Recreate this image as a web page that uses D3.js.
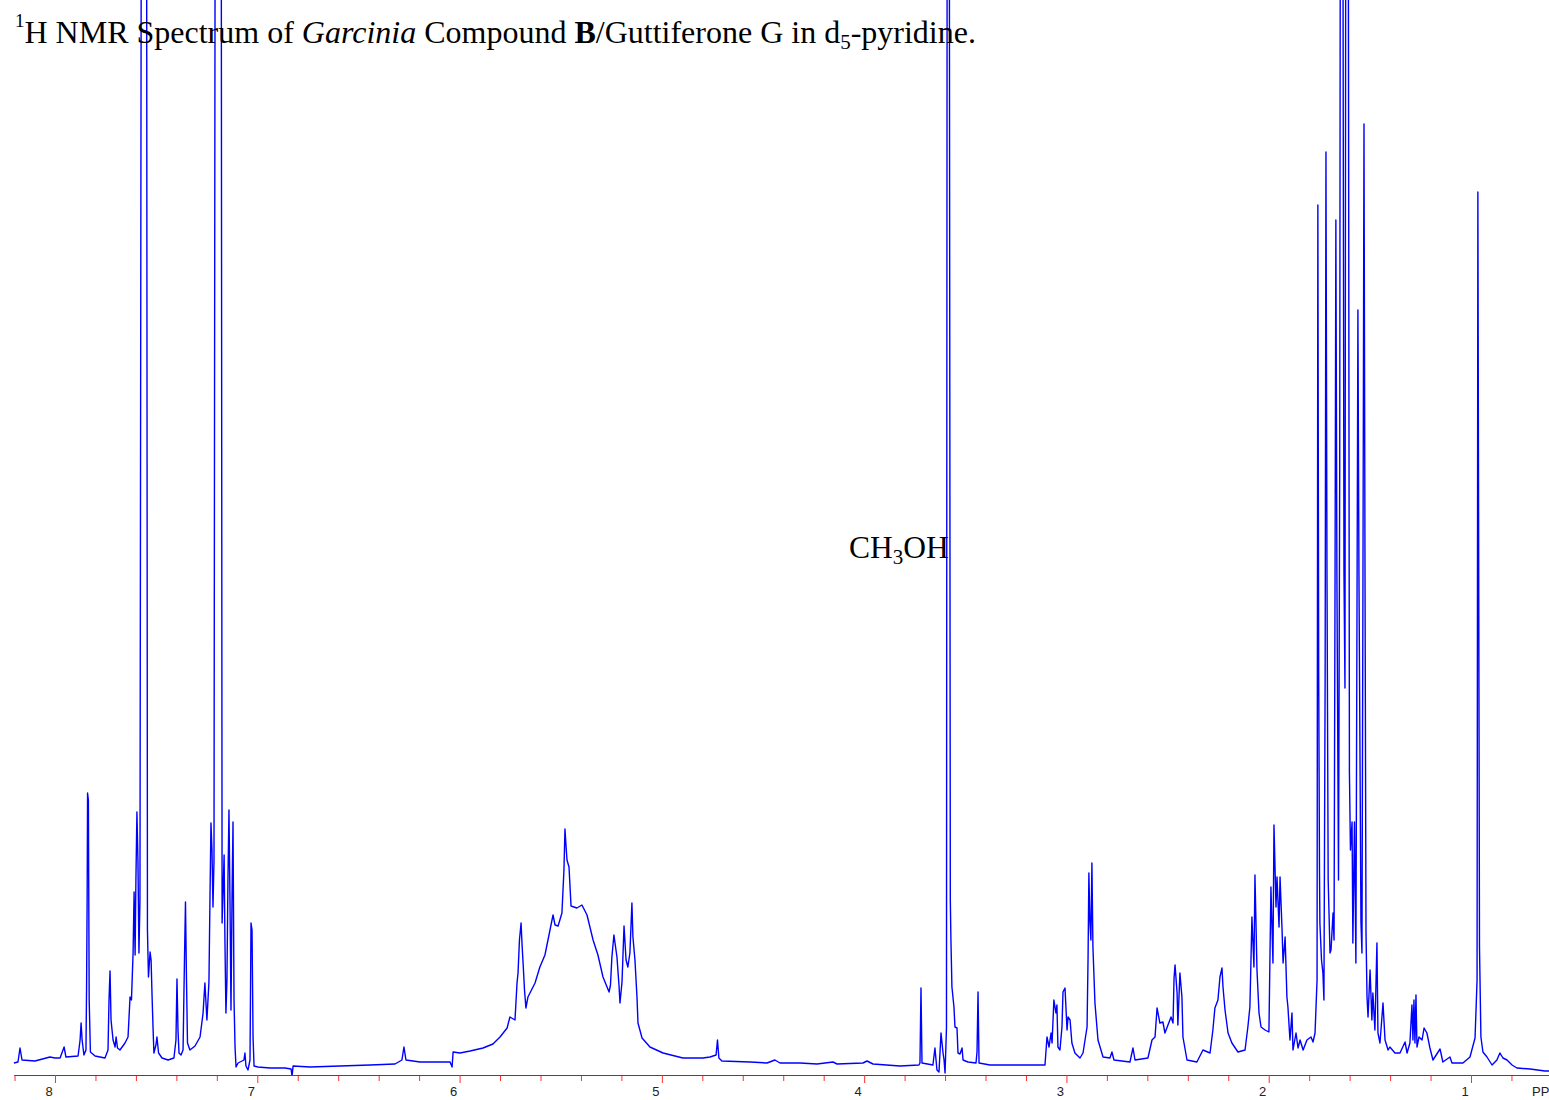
<!DOCTYPE html>
<html>
<head>
<meta charset="utf-8">
<script src="https://cdn.jsdelivr.net/npm/d3@7"></script>
<style>
  body { margin: 0; background: #fff; }
  svg { display: block; }
  text { white-space: pre; }
</style>
</head>
<body>
<svg id="chart" width="1549" height="1100"></svg>
<script>
// spectrum trace, [ppm, intensity] (intensity > 1072 runs off the top)
const aromaticTrace = [
    [8.203,9],[8.183,10],[8.173,24],[8.163,12],[8.099,11],[8.025,15],[8.000,14],[7.975,14],[7.955,25],[7.946,15],
    [7.886,16],[7.876,32],[7.871,49],[7.866,32],[7.857,17],[7.847,22],[7.844,82],[7.841,177],[7.839,279],[7.835,272],
    [7.831,72],[7.825,20],[7.802,16],[7.753,14],[7.738,22],[7.733,72],[7.728,101],[7.723,52],[7.713,32],[7.703,25],
    [7.698,35],[7.691,24],[7.679,22],[7.654,29],[7.639,35],[7.629,75],[7.622,72],[7.614,119],[7.609,180],[7.604,117],
    [7.600,192],[7.595,260],[7.590,212],[7.585,119],[7.580,172],[7.572,1400],[7.548,1400],[7.543,142],[7.538,95],[7.530,120],
    [7.525,112],[7.520,75],[7.515,42],[7.511,19],[7.501,27],[7.496,35],[7.488,19],[7.471,14],[7.441,12],[7.412,14],
    [7.402,32],[7.397,93],[7.392,42],[7.387,19],[7.377,17],[7.367,22],[7.360,112],[7.355,170],[7.350,92],[7.345,29],
    [7.333,22],[7.308,26],[7.283,35],[7.268,59],[7.259,89],[7.249,52],[7.239,90],[7.234,172],[7.229,249],[7.224,222],
    [7.219,165],[7.214,212],[7.207,1400],[7.179,1400],[7.174,149],[7.169,182],[7.164,217],[7.160,132],[7.155,59],[7.150,92],
    [7.145,192],[7.140,262],[7.135,172],[7.130,62],[7.125,172],[7.120,250],[7.115,72],[7.110,25],[7.105,5],[7.095,9],
    [7.066,12],[7.061,19],[7.056,6],[7.046,2],[7.036,12],[7.031,149],[7.026,142],[7.021,35],[7.016,6],[6.997,5],
    [6.937,4],[6.863,4],[6.833,3],[6.828,-4],[6.823,6],[6.739,5],[6.591,6],[6.443,7],[6.319,8],[6.285,12],
    [6.275,25],[6.265,12],[6.196,10],[6.047,10],[6.037,5],[6.032,20]
]

const olefinicTrace = [
    [5.998,19],[5.948,21],[5.884,24],[5.835,28],[5.800,35],[5.765,44],[5.751,55],[5.726,52],[5.716,89],[5.711,99],
    [5.704,132],[5.696,149],[5.691,127],[5.686,109],[5.679,82],[5.672,64],[5.662,75],[5.627,89],[5.603,105],[5.578,117],
    [5.553,142],[5.538,157],[5.528,147],[5.513,146],[5.494,159],[5.484,202],[5.479,243],[5.474,227],[5.469,212],[5.459,205],
    [5.449,166],[5.420,164],[5.395,167],[5.370,157],[5.340,132],[5.316,117],[5.291,95],[5.261,80],[5.254,87],[5.247,115],
    [5.237,137],[5.222,115],[5.212,87],[5.207,69],[5.197,90],[5.187,146],[5.177,112],[5.168,105],[5.158,119],[5.148,169],
    [5.143,135],[5.133,112],[5.123,75],[5.118,49],[5.098,34],[5.059,25],[4.994,19],[4.896,14],[4.797,14],[4.762,15],
    [4.732,17],[4.725,32],[4.718,14],[4.703,11],[4.564,10],[4.480,9],[4.441,12],[4.416,9],[4.317,9],[4.233,8],
    [4.154,10],[4.134,8],[4.006,9],[3.986,11],[3.956,8],[3.823,6],[3.729,7],[3.724,9],[3.719,84],[3.714,9]
]

const methanolTrace = [
    [3.660,7],[3.650,24],[3.640,2],[3.630,0],[3.620,39],[3.610,19],[3.605,12],[3.600,-1],[3.593,44],[3.589,1400],
    [3.580,1400],[3.574,172],[3.571,132],[3.566,85],[3.556,65],[3.551,45],[3.541,44],[3.536,19],[3.526,18],[3.516,24],
    [3.511,12],[3.487,10],[3.447,9],[3.442,20],[3.437,80],[3.432,9],[3.378,7],[3.230,7]
]

const aliphaticTrace = [
    [3.106,7],[3.096,35],[3.086,25],[3.076,39],[3.071,29],[3.062,72],[3.052,59],[3.047,67],[3.042,25],[3.032,22],
    [3.022,45],[3.017,80],[3.007,84],[2.997,42],[2.992,55],[2.982,52],[2.973,29],[2.958,19],[2.933,14],[2.918,19],
    [2.898,45],[2.893,115],[2.889,199],[2.884,150],[2.879,132],[2.874,209],[2.869,125],[2.859,69],[2.844,32],[2.819,15],
    [2.785,14],[2.775,20],[2.765,12],[2.686,10],[2.671,24],[2.661,12],[2.597,14],[2.577,32],[2.562,35],[2.552,64],
    [2.538,49],[2.523,50],[2.513,39],[2.498,47],[2.483,55],[2.473,49],[2.468,94],[2.463,107],[2.453,79],[2.449,47],
    [2.439,99],[2.429,75],[2.424,35],[2.404,12],[2.355,10],[2.325,22],[2.290,19],[2.276,42],[2.266,64],[2.251,72],
    [2.241,95],[2.231,104],[2.226,85],[2.216,62],[2.201,39],[2.182,29],[2.152,20],[2.117,22],[2.103,45],[2.093,65],
    [2.088,109],[2.083,155],[2.073,105],[2.068,197],[2.058,102],[2.048,59],[2.038,45],[2.018,42],[1.999,40],[1.989,185],
    [1.979,109],[1.974,247],[1.964,165],[1.959,195],[1.949,145],[1.944,195],[1.934,142],[1.929,109],[1.919,135],[1.910,75],
    [1.905,65],[1.895,32],[1.885,59],[1.880,22],[1.865,39],[1.855,24],[1.845,32],[1.830,22],[1.811,32],[1.791,35],
    [1.781,30],[1.771,39],[1.761,92],[1.757,867],[1.753,400],[1.749,202],[1.747,149],[1.739,112],[1.732,99],[1.727,72],
    [1.721,400],[1.717,920],[1.712,500],[1.706,192],[1.697,119],[1.692,122],[1.682,159],[1.677,132],[1.672,500],[1.668,852],
    [1.663,500],[1.655,192],[1.649,600],[1.645,1400],[1.635,1400],[1.628,500],[1.623,384],[1.618,1400],[1.608,1400],[1.601,300],
    [1.596,222],[1.588,250],[1.584,129],[1.576,250],[1.569,109],[1.563,500],[1.559,762],[1.554,500],[1.544,150],[1.539,119],
    [1.534,500],[1.529,948],[1.524,500],[1.519,139],[1.514,75],[1.509,55],[1.499,102],[1.490,52],[1.485,79],[1.475,42],
    [1.465,129],[1.460,39],[1.450,29],[1.435,69],[1.425,32],[1.410,22],[1.401,25],[1.376,19],[1.351,19],[1.326,30],
    [1.316,19],[1.302,29],[1.292,67],[1.287,32],[1.282,72],[1.277,29],[1.272,77],[1.267,25],[1.257,35],[1.242,32],
    [1.232,44],[1.218,39],[1.203,24],[1.188,12],[1.153,23],[1.139,10],[1.104,15],[1.094,9],[1.040,9],[1.005,15],
    [0.980,34],[0.970,92],[0.966,880],[0.963,600],[0.958,125],[0.951,35],[0.941,20],[0.921,15],[0.896,7],[0.872,12],
    [0.857,19],[0.842,14],[0.822,12],[0.797,7],[0.773,4],[0.708,3],[0.634,1],[0.614,1]
]

const majorTicks = [8, 7, 6, 5, 4, 3, 2, 1]
const minorTicks = [8.2, 7.8, 7.6, 7.4, 7.2, 6.8, 6.6, 6.4, 6.2, 5.8, 5.6, 5.4, 5.2, 4.8, 4.6, 4.4, 4.2,
    3.8, 3.6, 3.4, 3.2, 2.8, 2.6, 2.4, 2.2, 1.8, 1.6, 1.4, 1.2, 0.8]
const unitLabel = 'PPM'
const ppmRange = [8.2027, 0.6144]
const intensityRange = [0, 1072]

const width = 1549
const height = 1100
const axisY = 1075
const serif = '"Liberation Serif", "Times New Roman", serif'

const svg = d3.select('#chart')

const x = d3.scaleLinear().domain(ppmRange).range([14, width])
const y = d3.scaleLinear().domain(intensityRange).range([1072, 0])

svg.append('defs').append('clipPath')
    .attr('id', 'plot-clip')
  .append('rect')
    .attr('x', 0).attr('y', 0)
    .attr('width', width).attr('height', axisY)

const trace = [].concat(aromaticTrace, olefinicTrace, methanolTrace, aliphaticTrace)

const line = d3.line()
    .x((d) => x(d[0]))
    .y((d) => y(d[1]))

svg.append('path')
    .datum(trace)
    .attr('clip-path', 'url(#plot-clip)')
    .attr('fill', 'none')
    .attr('stroke', '#0000ff')
    .attr('stroke-width', 1.4)
    .attr('stroke-linejoin', 'round')
    .attr('d', line)

// minor ticks first, the labelled axis over them
const minorAxis = d3.axisBottom(x)
    .tickValues(minorTicks)
    .tickSize(6)
    .tickSizeOuter(0)
    .tickFormat('')

const majorAxis = d3.axisBottom(x)
    .tickValues(majorTicks)
    .tickSize(8)
    .tickSizeOuter(0)
    .tickPadding(4)
    .tickFormat(d3.format('d'))

svg.append('g')
    .attr('class', 'axis minor')
    .attr('transform', `translate(0,${axisY})`)
    .call(minorAxis)

const major = svg.append('g')
    .attr('class', 'axis major')
    .attr('transform', `translate(0,${axisY})`)
    .call(majorAxis)

svg.selectAll('.axis path.domain').attr('stroke', '#ff0000').attr('stroke-width', 1.2)
svg.selectAll('.axis .tick line').attr('stroke', '#ff3030')

major.selectAll('.tick text')
    .attr('dx', -6.5)
    .attr('fill', '#222')
    .style('font-family', '"Liberation Sans", Arial, sans-serif')
    .style('font-size', '13px')

// unit label runs off the right edge, as in the source
svg.append('text')
    .attr('x', 1532)
    .attr('y', 1096)
    .attr('fill', '#222')
    .style('font-family', '"Liberation Sans", Arial, sans-serif')
    .style('font-size', '13px')
    .text(unitLabel)

// title
const title = svg.append('text')
    .attr('x', 15)
    .attr('y', 43)
    .attr('fill', '#000')
    .style('font-family', serif)
    .style('font-size', '32px')

title.append('tspan').attr('font-size', 19).attr('dy', -16).text('1')
title.append('tspan').attr('dy', 16).text('H NMR Spectrum of ')
title.append('tspan').attr('font-style', 'italic').text('Garcinia')
title.append('tspan').text(' Compound ')
title.append('tspan').attr('font-weight', 'bold').text('B')
title.append('tspan').text('/Guttiferone G in d')
title.append('tspan').attr('font-size', 21).attr('dy', 6).text('5')
title.append('tspan').attr('dy', -6).text('-pyridine.')

// solvent annotation
const note = svg.append('text')
    .attr('x', 849)
    .attr('y', 558)
    .attr('fill', '#000')
    .style('font-family', serif)
    .style('font-size', '31.5px')

note.append('tspan').text('CH')
note.append('tspan').attr('font-size', 21).attr('dy', 6).text('3')
note.append('tspan').attr('dy', -6).text('OH')
</script>
</body>
</html>
